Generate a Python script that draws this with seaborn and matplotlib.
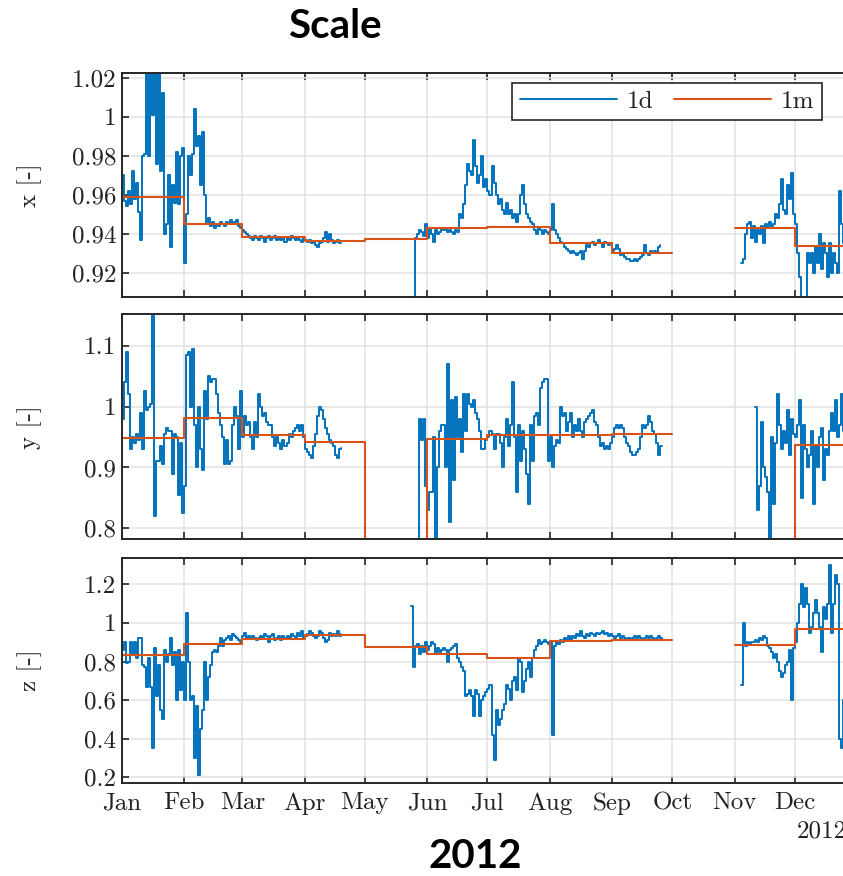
import numpy as np
import pandas as pd
import matplotlib
matplotlib.use("Agg")
import matplotlib.pyplot as plt
import matplotlib.dates as mdates
from matplotlib.ticker import FixedLocator, FuncFormatter
import seaborn as sns

nan = np.nan

# ---------------- data ----------------
month_labels = ["Jan", "Feb", "Mar", "Apr", "May", "Jun",
                "Jul", "Aug", "Sep", "Oct", "Nov", "Dec"]

# daily scale factors (1d), one list per contiguous run of days
x_1d_start = ["2012-01-01", "2012-05-25", "2012-11-04"]
x_1d_run1 = [0.970, 0.957, 0.954, 0.962, 0.955, 0.972, 0.958, 0.966, 0.951, 0.937,
             0.980, 0.981, 1.025, 0.980, 1.025, 1.001, 1.025, 0.976, 1.025, 0.972,
             1.012, 0.940, 0.945, 0.970, 0.933, 0.965, 0.956, 0.982, 0.955, 0.980,
             0.984, 0.925, 0.950, 0.980, 0.970, 0.981, 1.004, 0.985, 0.990, 0.965,
             0.992, 0.960, 0.945, 0.948, 0.944, 0.946, 0.943, 0.945, 0.944, 0.946,
             0.945, 0.944, 0.946, 0.945, 0.947, 0.945, 0.946, 0.947, 0.944, 0.943,
             0.942, 0.941, 0.940, 0.939, 0.938, 0.937, 0.939, 0.938, 0.937, 0.939,
             0.938, 0.936, 0.938, 0.939, 0.937, 0.938, 0.939, 0.937, 0.938, 0.937,
             0.938, 0.936, 0.938, 0.937, 0.939, 0.938, 0.937, 0.938, 0.937, 0.936,
             0.938, 0.937, 0.936, 0.937, 0.935, 0.936, 0.934, 0.933, 0.935, 0.936,
             0.938, 0.941, 0.936, 0.940, 0.937, 0.935, 0.936, 0.937, 0.935, 0.935]
x_1d_run2 = [0.900, 0.938, 0.940, 0.942, 0.941, 0.939, 0.945, 0.938, 0.943, 0.940,
             0.936, 0.942, 0.940, 0.941, 0.943, 0.942, 0.943, 0.941, 0.942, 0.941,
             0.940, 0.942, 0.941, 0.950, 0.948, 0.955, 0.965, 0.976, 0.972, 0.970,
             0.988, 0.975, 0.966, 0.970, 0.980, 0.964, 0.968, 0.962, 0.960, 0.975,
             0.966, 0.960, 0.955, 0.958, 0.952, 0.950, 0.956, 0.950, 0.952, 0.948,
             0.950, 0.946, 0.950, 0.960, 0.965, 0.955, 0.950, 0.948, 0.946, 0.945,
             0.942, 0.940, 0.943, 0.942, 0.940, 0.942, 0.941, 0.940, 0.942, 0.955,
             0.942, 0.940, 0.938, 0.936, 0.935, 0.933, 0.932, 0.931, 0.930, 0.931,
             0.930, 0.929, 0.930, 0.931, 0.927, 0.931, 0.934, 0.933, 0.935, 0.936,
             0.934, 0.935, 0.937, 0.935, 0.933, 0.936, 0.935, 0.934, 0.935, 0.931,
             0.932, 0.934, 0.932, 0.929, 0.930, 0.928, 0.927, 0.927, 0.926, 0.926,
             0.927, 0.926, 0.927, 0.928, 0.929, 0.934, 0.930, 0.929, 0.931, 0.930,
             0.931, 0.930, 0.933, 0.934]
x_1d_run3 = [0.925, 0.927, 0.940, 0.945, 0.946, 0.938, 0.944, 0.936, 0.942, 0.940,
             0.944, 0.935, 0.945, 0.943, 0.946, 0.944, 0.945, 0.950, 0.948, 0.955,
             0.968, 0.952, 0.950, 0.965, 0.958, 0.971, 0.950, 0.945, 0.930, 0.918,
             0.900, 0.903, 0.900, 0.930, 0.925, 0.930, 0.920, 0.933, 0.925, 0.940,
             0.922, 0.935, 0.930, 0.918, 0.935, 0.920, 0.930, 0.925, 0.920, 0.962,
             0.945, 0.935, 0.930, 0.932, 0.935, 0.930, 0.933]

y_1d_start = ["2012-01-01", "2012-05-27", "2012-11-11"]
y_1d_run1 = [0.98, 1.04, 1.09, 1.02, 0.93, 0.95, 0.94, 0.955, 0.945, 0.99,
             0.93, 1.025, 0.995, 1.0, 1.005, 1.16, 0.82, 0.91, 0.91, 0.935,
             0.905, 0.955, 0.965, 0.96, 0.96, 0.89, 0.955, 0.95, 0.855, 0.94,
             0.825, 0.87, 1.085, 1.09, 1.0, 1.095, 0.97, 0.90, 1.0, 0.93,
             0.895, 1.025, 0.98, 1.05, 1.04, 1.045, 1.045, 1.02, 0.99, 0.97,
             0.95, 0.905, 0.945, 0.905, 0.91, 0.97, 1.0, 0.985, 0.93, 1.025,
             0.95, 0.985, 0.97, 0.975, 0.95, 0.93, 0.975, 0.95, 1.02, 1.0,
             0.985, 0.99, 0.975, 0.97, 0.97, 0.95, 0.935, 0.95, 0.94, 0.93,
             0.945, 0.935, 0.94, 0.955, 0.95, 0.96, 0.965, 0.97, 0.96, 0.97,
             0.95, 0.93, 0.925, 0.92, 0.915, 0.935, 0.955, 0.985, 1.0, 0.995,
             0.98, 0.965, 0.955, 0.945, 0.94, 0.935, 0.92, 0.915, 0.93, 0.932]
y_1d_run2 = [0.76, 0.98, 0.945, 0.98, 0.87, 0.83, 0.86, 0.86, 0.95, 0.76,
             0.90, 0.96, 0.97, 0.97, 0.90, 1.07, 0.81, 1.01, 0.88, 1.015,
             0.95, 0.98, 0.925, 1.02, 0.96, 1.02, 1.005, 1.0, 1.01, 0.99,
             0.98, 0.96, 0.93, 0.93, 0.945, 0.95, 0.96, 0.955, 0.93, 0.955,
             0.955, 0.94, 0.90, 0.95, 0.98, 0.935, 0.97, 1.04, 0.95, 0.86,
             0.97, 0.91, 0.96, 0.93, 0.89, 0.84, 0.97, 0.91, 0.985, 0.99,
             0.97, 1.03, 1.04, 1.045, nan, 0.91, 0.95, 0.90, 0.935, 0.945,
             0.94, 1.0, 0.985, 0.99, 0.96, 0.975, 0.99, 0.95, 0.97, 0.96,
             0.98, 0.96, 0.95, 0.975, 0.98, 0.985, 0.99, 0.995, 0.975, 0.97,
             0.95, 0.935, 0.94, 0.93, 0.935, 0.93, 0.94, 0.95, 0.965, 0.97,
             0.965, 0.97, 0.965, 0.95, 0.94, 0.935, 0.925, 0.92, 0.92, 0.925,
             0.93, 0.95, 0.97, 0.965, 0.97, 0.985, 0.975, 0.96, 0.955, 0.94,
             0.92, 0.935, 0.935]
y_1d_run3 = [1.0, 0.83, 0.87, 0.975, 0.90, 0.885, 0.86, 0.76, 0.95, 0.84,
             0.94, 1.02, 0.97, 0.93, 0.96, 0.94, 0.995, 0.92, 0.98, 0.955,
             0.95, 0.97, 1.01, 0.85, 0.97, 0.93, 0.90, 0.92, 0.96, 0.84,
             0.935, 0.90, 0.95, 0.965, 0.88, 0.93, 0.92, 0.96, 0.99, 0.96,
             1.01, 0.95, 0.97, 1.02, 0.96, 0.95, 0.97, 0.94, 0.96, 0.95, 0.96]

z_1d_start = ["2012-01-01", "2012-05-24", "2012-11-04"]
z_1d_run1 = [0.86, 0.90, 0.79, 0.80, 0.90, 0.84, 0.90, 0.82, 0.92, 0.92,
             0.78, 0.77, 0.67, 0.82, 0.67, 0.35, 0.87, 0.62, 0.78, 0.55,
             0.50, 0.86, 0.80, 0.84, 0.92, 0.78, 0.85, 0.60, 0.86, 0.65,
             0.80, 0.60, 1.05, 0.80, 0.60, 0.62, 0.30, 0.57, 0.21, 0.45,
             0.55, 0.80, 0.60, 0.72, 0.78, 0.85, 0.86, 0.85, 0.88, 0.92,
             0.88, 0.91, 0.92, 0.93, 0.91, 0.94, 0.93, 0.92, 0.91, 0.90,
             0.93, 0.95, 0.92, 0.93, 0.92, 0.93, 0.92, 0.91, 0.92, 0.93,
             0.92, 0.94, 0.93, 0.90, 0.93, 0.94, 0.91, 0.92, 0.93, 0.91,
             0.93, 0.92, 0.93, 0.92, 0.94, 0.93, 0.92, 0.95, 0.93, 0.96,
             0.92, 0.93, 0.94, 0.96, 0.95, 0.93, 0.92, 0.93, 0.96, 0.95,
             0.92, 0.90, 0.91, 0.95, 0.93, 0.94, 0.93, 0.96, 0.93, 0.94]
z_1d_run2 = [1.09, 0.77, 0.88, 0.89, 0.84, 0.88, 0.85, 0.90, 0.86, 0.88,
             0.90, 0.89, 0.84, 0.87, 0.85, 0.86, 0.87, 0.86, 0.80, 0.86,
             0.87, 0.88, 0.89, 0.82, 0.80, 0.77, 0.75, 0.62, 0.63, 0.65,
             0.62, 0.52, 0.65, 0.63, 0.52, 0.60, 0.62, 0.64, 0.66, 0.68,
             0.42, 0.29, 0.55, 0.47, 0.50, 0.55, 0.58, 0.68, 0.66, 0.60,
             0.70, 0.72, 0.65, 0.82, 0.80, 0.64, 0.70, 0.76, 0.80, 0.72,
             0.82, 0.86, 0.88, 0.91, 0.89, 0.90, 0.91, 0.90, 0.89, 0.90,
             0.42, 0.88, 0.90, 0.89, 0.91, 0.90, 0.92, 0.91, 0.93, 0.91,
             0.93, 0.92, 0.94, 0.93, 0.96, 0.93, 0.92, 0.94, 0.93, 0.95,
             0.94, 0.93, 0.95, 0.94, 0.95, 0.96, 0.94, 0.95, 0.93, 0.94,
             0.93, 0.92, 0.93, 0.94, 0.92, 0.93, 0.92, 0.91, 0.92, 0.91,
             0.92, 0.93, 0.92, 0.93, 0.92, 0.91, 0.92, 0.93, 0.92, 0.93,
             0.92, 0.91, 0.92, 0.93, 0.92, 0.915]
z_1d_run3 = [0.68, 1.00, 0.88, 0.90, 0.89, 0.90, 0.90, 0.91, 0.90, 0.92,
             0.91, 0.93, 0.92, 0.88, 0.87, 0.85, 0.82, 0.84, 0.80, 0.75,
             0.72, 0.74, 0.78, 0.80, 0.86, 0.60, 0.87, 0.90, 1.00, 1.10,
             1.20, 1.08, 1.18, 1.10, 0.95, 0.98, 1.05, 1.12, 1.05, 0.98,
             0.85, 1.08, 1.02, 1.10, 1.30, 0.95, 1.10, 1.25, 1.20, 0.40,
             0.35, 0.60, 0.70, 0.80, 0.75, 0.70, 0.72]

# monthly scale factors (1m); October has no estimate
x_1m = [0.9586, 0.9448, 0.9385, 0.9364, 0.9371, 0.9427,
        0.9436, 0.9350, 0.9300, nan, 0.9430, 0.9337]
y_1m = [0.948, 0.982, 0.954, 0.942, 0.700, 0.947,
        0.953, 0.954, 0.955, nan, 0.720, 0.937]
z_1m = [0.834, 0.889, 0.915, 0.936, 0.874, 0.839,
        0.820, 0.905, 0.913, nan, 0.886, 0.967]

x_ticks = [0.92, 0.94, 0.96, 0.98, 1.0, 1.02]
y_ticks = [0.8, 0.9, 1.0, 1.1]
z_ticks = [0.2, 0.4, 0.6, 0.8, 1.0, 1.2]

panel_names = ["x [-]", "y [-]", "z [-]"]
legend_labels = ["1d", "1m"]

# ---------------- styling ----------------
sns.set_theme(style="white")
plt.rcParams["font.family"] = ["cmr10", "DejaVu Serif"]
plt.rcParams["axes.formatter.use_mathtext"] = True
plt.rcParams["mathtext.fontset"] = "cm"

blue = "#0072BD"
orange = "#D95319"
spine_c = "#262626"
grid_c = "#e1e1e1"
fs = 18


def daily_runs(starts, runs):
    frames = []
    for s, vals in zip(starts, runs):
        dates = pd.date_range(s, periods=len(vals), freq="D")
        frames.append(pd.DataFrame({"date": dates, "value": vals}))
    return frames


def monthly_runs(vals):
    # split at missing months and add the closing edge of each run for step drawing
    starts = pd.date_range("2012-01-01", periods=13, freq="MS")
    frames, cur = [], []
    for i, v in enumerate(vals):
        if np.isnan(v):
            if cur:
                cur.append((starts[i], cur[-1][1]))
                frames.append(pd.DataFrame(cur, columns=["date", "value"]))
                cur = []
        else:
            cur.append((starts[i], v))
    if cur:
        cur.append((starts[len(vals)], cur[-1][1]))
        frames.append(pd.DataFrame(cur, columns=["date", "value"]))
    return frames


panels = [
    (daily_runs(x_1d_start, [x_1d_run1, x_1d_run2, x_1d_run3]), monthly_runs(x_1m),
     x_ticks, (0.9074, 1.0226)),
    (daily_runs(y_1d_start, [y_1d_run1, y_1d_run2, y_1d_run3]), monthly_runs(y_1m),
     y_ticks, (0.782, 1.152)),
    (daily_runs(z_1d_start, [z_1d_run1, z_1d_run2, z_1d_run3]), monthly_runs(z_1m),
     z_ticks, (0.173, 1.338)),
]

month_starts = pd.date_range("2012-01-01", periods=13, freq="MS")
labelled_months = mdates.date2num(month_starts[:12].to_pydatetime())
all_month_ticks = mdates.date2num(month_starts.to_pydatetime())

W, H = 843, 876
fig = plt.figure(figsize=(W / 100, H / 100), dpi=100)
ax_left = 121.7 / W
ax_width = 735.6 / W
ax_rows = [(72.7, 297.3), (314.0, 539.3), (557.7, 782.5)]

axes = []
for i, ((daily, monthly, ticks, ylim), (top, bot)) in enumerate(zip(panels, ax_rows)):
    ax = fig.add_axes([ax_left, (H - bot) / H, ax_width, (bot - top) / H])
    axes.append(ax)
    for j, df in enumerate(daily):
        sns.lineplot(data=df, x="date", y="value", ax=ax, color=blue, lw=1.4,
                     estimator=None, drawstyle="steps-post",
                     label=legend_labels[0] if j == 0 else None, legend=False)
    for j, df in enumerate(monthly):
        sns.lineplot(data=df, x="date", y="value", ax=ax, color=orange, lw=1.5,
                     estimator=None, drawstyle="steps-post",
                     label=legend_labels[1] if j == 0 else None, legend=False)

    ax.set_xlim(all_month_ticks[0], all_month_ticks[-1])
    ax.set_ylim(*ylim)
    ax.yaxis.set_major_locator(FixedLocator(ticks))
    ax.yaxis.set_major_formatter(FuncFormatter(lambda v, p: f"{v:g}"))
    ax.xaxis.set_major_locator(FixedLocator(labelled_months))
    if i == 2:
        ax.xaxis.set_major_formatter(FuncFormatter(
            lambda v, p: month_labels[int(np.argmin(np.abs(labelled_months - v)))]))
    else:
        ax.xaxis.set_major_formatter(FuncFormatter(lambda v, p: ""))
    ax.grid(True, color=grid_c, lw=1.1)
    ax.set_axisbelow(True)
    ax.tick_params(axis="both", which="major", direction="in", length=5, width=1.2,
                   color=spine_c, labelsize=fs, labelcolor="#222222",
                   top=True, right=True, bottom=True, left=True)
    ax.tick_params(axis="x", pad=7)
    ax.tick_params(axis="y", pad=4)
    for sp in ax.spines.values():
        sp.set_color(spine_c)
        sp.set_linewidth(1.4)
        sp.set_visible(True)
    ax.set_xlabel("")
    ax.set_ylabel(panel_names[i], fontsize=fs, color="#222222")
    ax.yaxis.set_label_coords((42 - 121.7) / 735.6, 0.5)

# legend in the top panel
leg = axes[0].legend(loc="upper right", bbox_to_anchor=(822 / W, (H - 82.7) / H),
                     bbox_transform=fig.transFigure, ncol=2, fontsize=fs,
                     handlelength=3.9, handletextpad=0.4, columnspacing=0.8,
                     borderpad=0.3, borderaxespad=0, frameon=True, fancybox=False,
                     framealpha=1)
leg.get_frame().set_edgecolor(spine_c)
leg.get_frame().set_linewidth(1.2)
for t in leg.get_texts():
    t.set_color("#222222")

# year tag at the end of the date axis
axes[2].text((797 - 121.7) / 735.6, -(831 - 782.5) / 224.8, "2012",
             transform=axes[2].transAxes, ha="left", va="center",
             fontsize=fs, color="#222222")

fig.text(335 / W, 1 - 27 / H, "Scale", ha="center", va="center", color="black",
         fontsize=29, fontweight="bold", family=["Lato", "DejaVu Sans"])
fig.text(475 / W, 1 - 856 / H, "2012", ha="center", va="center", color="black",
         fontsize=29, fontweight="bold", family=["Lato", "DejaVu Sans"])

fig.savefig("out.png", dpi=100, facecolor="white")
